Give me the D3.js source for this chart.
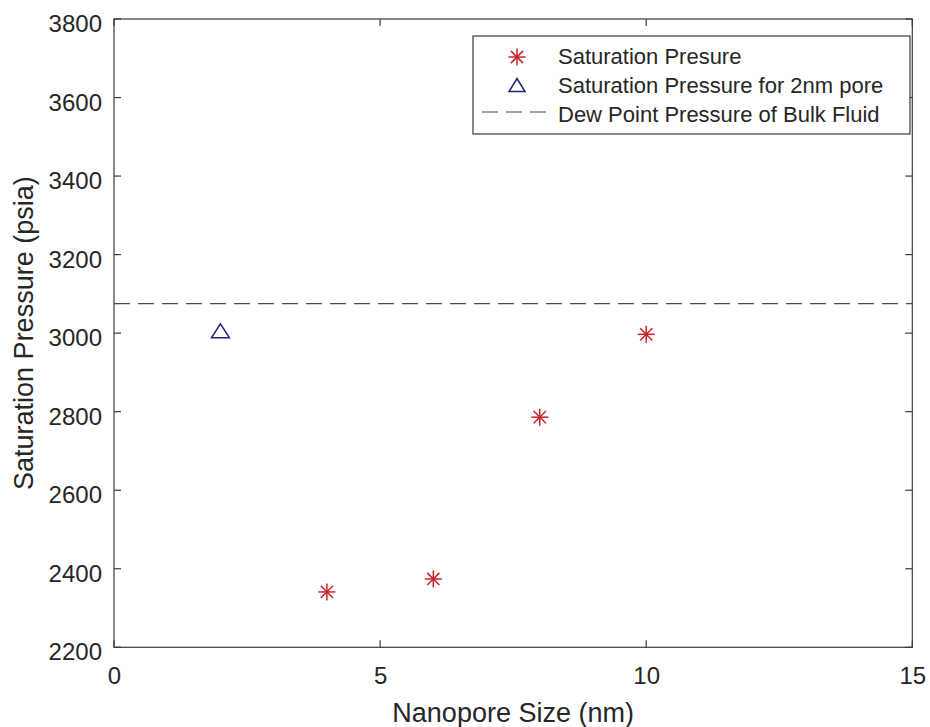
<!DOCTYPE html>
<html>
<head>
<meta charset="utf-8">
<script src="https://cdn.jsdelivr.net/npm/d3@7/dist/d3.min.js"></script>
<style>
  body { margin: 0; background: #fff; }
  text { font-family: "Liberation Sans", Arial, sans-serif; }
</style>
</head>
<body>
<svg id="chart" width="930" height="727"></svg>
<script>
// data
const poreSizes = [4, 6, 8, 10];
const satPressure = [2341, 2374, 2786, 2997];
const pore2nm = [2];
const pore2nmPressure = [3006];
const dewPointPressure = 3075;
const xTicks = [0, 5, 10, 15];
const yTicks = [2200, 2400, 2600, 2800, 3000, 3200, 3400, 3600, 3800];
const legendLabels = ["Saturation Presure", "Saturation Pressure for 2nm pore", "Dew Point Pressure of Bulk Fluid"];

const axisColor = "#3a3a3a";
const textColor = "#262626";
const red = "#c8232c";
const navy = "#22227a";

const svg = d3.select("#chart");
const W = 930, H = 727;
const margin = { left: 114, right: 17.7, top: 19, bottom: 79.7 };

const x = d3.scaleLinear().domain([0, 15]).range([margin.left, W - margin.right]);
const y = d3.scaleLinear().domain([2200, 3800]).range([H - margin.bottom, margin.top]);

const tickLen = 7;

// axis box
svg.append("rect")
  .attr("x", x(0)).attr("y", y(3800))
  .attr("width", x(15) - x(0)).attr("height", y(2200) - y(3800))
  .attr("fill", "none").attr("stroke", axisColor).attr("stroke-width", 1.2);

// tick labels via d3 axes
const xAx = d3.axisBottom(x).tickValues(xTicks).tickFormat(d3.format("d")).tickSize(0).tickPadding(20);
const gx = svg.append("g").attr("transform", `translate(0,${y(2200)})`).call(xAx);
gx.select(".domain").remove();
gx.selectAll("text").attr("font-size", 24).attr("fill", textColor)
  .style("font-family", "Liberation Sans, Arial, sans-serif");

const yAx = d3.axisLeft(y).tickValues(yTicks).tickFormat(d3.format("d")).tickSize(0).tickPadding(12);
const gy = svg.append("g").attr("transform", `translate(${x(0)},0)`).call(yAx);
gy.select(".domain").remove();
gy.selectAll("text").attr("font-size", 24).attr("fill", textColor).attr("dy", "0.52em")
  .style("font-family", "Liberation Sans, Arial, sans-serif");

// inward ticks on all four sides
const ticks = svg.append("g").attr("stroke", axisColor).attr("stroke-width", 1.2);
xTicks.forEach(t => {
  ticks.append("line").attr("x1", x(t)).attr("x2", x(t)).attr("y1", y(2200)).attr("y2", y(2200) - tickLen);
  ticks.append("line").attr("x1", x(t)).attr("x2", x(t)).attr("y1", y(3800)).attr("y2", y(3800) + tickLen);
});
yTicks.forEach(t => {
  ticks.append("line").attr("x1", x(0)).attr("x2", x(0) + tickLen).attr("y1", y(t)).attr("y2", y(t));
  ticks.append("line").attr("x1", x(15)).attr("x2", x(15) - tickLen).attr("y1", y(t)).attr("y2", y(t));
});

// axis labels
svg.append("text")
  .attr("x", (x(0) + x(15)) / 2).attr("y", 722)
  .attr("text-anchor", "middle").attr("font-size", 27).attr("fill", textColor)
  .text("Nanopore Size (nm)");
svg.append("text")
  .attr("transform", `translate(33,${(y(2200) + y(3800)) / 2}) rotate(-90)`)
  .attr("text-anchor", "middle").attr("font-size", 27).attr("fill", textColor)
  .text("Saturation Pressure (psia)");

// asterisk marker
function star(g, cx, cy, r) {
  const s = g.append("g").attr("transform", `translate(${cx},${cy})`)
    .attr("stroke", red).attr("stroke-width", 1.5);
  s.append("line").attr("x1", -r).attr("x2", r).attr("y1", 0).attr("y2", 0);
  s.append("line").attr("x1", 0).attr("x2", 0).attr("y1", -r).attr("y2", r);
  const d = r * 0.72;
  s.append("line").attr("x1", -d).attr("x2", d).attr("y1", -d).attr("y2", d);
  s.append("line").attr("x1", -d).attr("x2", d).attr("y1", d).attr("y2", -d);
}
// upward triangle, bbox-centred
function tri(g, cx, cy, w, h) {
  g.append("path")
    .attr("d", `M${cx},${cy - h / 2}L${cx + w / 2},${cy + h / 2}L${cx - w / 2},${cy + h / 2}Z`)
    .attr("fill", "none").attr("stroke", navy).attr("stroke-width", 1.5)
    .attr("stroke-linejoin", "miter");
}

// dashed dew point line
svg.append("line")
  .attr("x1", x(0)).attr("x2", x(15))
  .attr("y1", y(dewPointPressure)).attr("y2", y(dewPointPressure))
  .attr("stroke", "#4a4a4a").attr("stroke-width", 1.2).attr("stroke-dasharray", "16,8");

const marks = svg.append("g");
poreSizes.forEach((p, i) => star(marks, x(p), y(satPressure[i]), 8.5));
pore2nm.forEach((p, i) => tri(marks, x(p), y(pore2nmPressure[i]), 18, 14));

// legend
const lg = svg.append("g");
lg.append("rect").attr("x", 473).attr("y", 36).attr("width", 437).attr("height", 98)
  .attr("fill", "#fff").attr("stroke", axisColor).attr("stroke-width", 1.2);
const baseY = [64, 93, 122];
star(lg, 517, 57, 8.5);
tri(lg, 517, 85, 16, 13);
lg.append("line").attr("x1", 482).attr("x2", 550).attr("y1", 112).attr("y2", 112)
  .attr("stroke", "#4a4a4a").attr("stroke-width", 1.2).attr("stroke-dasharray", "16,8");
legendLabels.forEach((t, i) => {
  lg.append("text").attr("x", 558).attr("y", baseY[i])
    .attr("font-size", 22).attr("fill", textColor).text(t);
});
</script>
</body>
</html>
